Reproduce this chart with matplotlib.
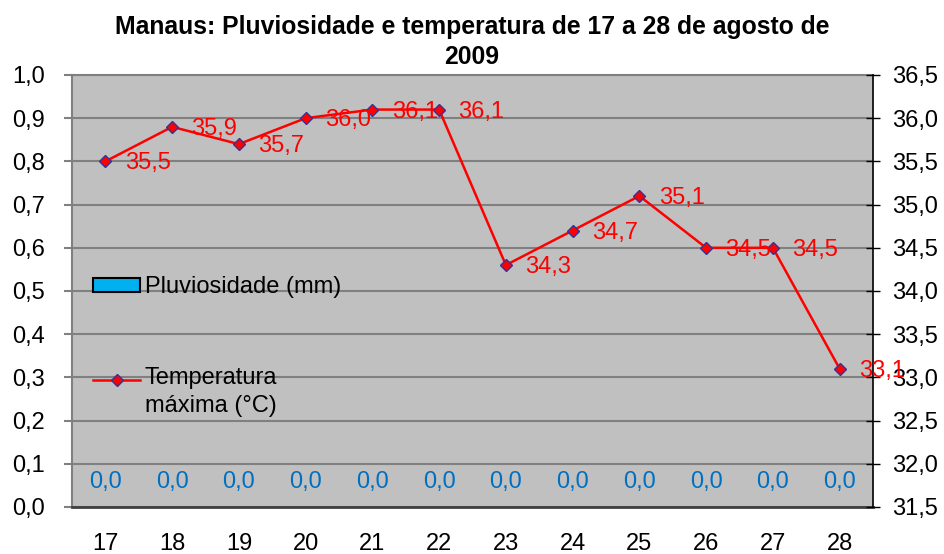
import matplotlib
matplotlib.use("Agg")
import matplotlib.pyplot as plt
from matplotlib.ticker import FuncFormatter, MultipleLocator
from matplotlib.lines import Line2D
from matplotlib.patches import Patch
from matplotlib.legend_handler import HandlerLine2D

plt.rcParams['font.family'] = ['Liberation Sans', 'DejaVu Sans']

days = ["17", "18", "19", "20", "21", "22", "23", "24", "25", "26", "27", "28"]
rain_mm = [0.0, 0.0, 0.0, 0.0, 0.0, 0.0, 0.0, 0.0, 0.0, 0.0, 0.0, 0.0]
temp_max = [35.5, 35.9, 35.7, 36.0, 36.1, 36.1, 34.3, 34.7, 35.1, 34.5, 34.5, 33.1]

title = "Manaus: Pluviosidade e temperatura de 17 a 28 de agosto de\n2009"
rain_label = "Pluviosidade (mm)"
temp_label = "Temperatura\nmáxima (°C)"

FS = 17
W, H = 944, 554
fig = plt.figure(figsize=(W / 100, H / 100), dpi=100)
ax = fig.add_axes([72 / W, 1 - 507 / H, 801 / W, 432 / H])
ax.set_facecolor("#C0C0C0")

comma = FuncFormatter(lambda v, p: f"{v:.1f}".replace(".", ","))

x = list(range(len(days)))
bars = ax.bar(x, rain_mm, width=0.5, color="#00B0F0", edgecolor="black", linewidth=0, zorder=3)
for xi, v in zip(x, rain_mm):
    ax.annotate(f"{v:.1f}".replace(".", ","), (xi, v), xytext=(0, 18), textcoords="offset points",
                ha="center", va="center", color="#0070C0", fontsize=FS, zorder=5)

ax.set_xlim(-0.5, len(days) - 0.5)
ax.set_ylim(0, 1.0)
ax.yaxis.set_major_locator(MultipleLocator(0.1))
ax.yaxis.set_major_formatter(comma)
ax.set_xticks(x)
ax.set_xticklabels(days)
ax.tick_params(axis="x", length=0, pad=18.5, labelsize=FS)
ax.tick_params(axis="y", direction="out", length=5.5, width=1.5, color="#808080", pad=14, labelsize=FS)
ax.grid(axis="y", color="#808080", linewidth=1.5, zorder=1)
ax.set_axisbelow(True)
for s in ["left", "top"]:
    ax.spines[s].set_color("#808080")
    ax.spines[s].set_linewidth(1.5)
ax.spines["bottom"].set_color("#404040")
ax.spines["bottom"].set_linewidth(2)
ax.spines["right"].set_visible(False)

ax2 = ax.twinx()
ax2.set_ylim(31.5, 36.5)
ax2.yaxis.set_major_locator(MultipleLocator(0.5))
ax2.yaxis.set_major_formatter(comma)
ax2.tick_params(axis="y", direction="inout", length=10, width=1, color="black", pad=9, labelsize=FS)
ax2.spines["right"].set_color("black")
ax2.spines["right"].set_linewidth(1.2)
for s in ["left", "top", "bottom"]:
    ax2.spines[s].set_visible(False)

ax2.plot(x, temp_max, color="#FF0000", linewidth=1.8, marker="D", markersize=6.5,
         markerfacecolor="#FF0000", markeredgecolor="#333399", markeredgewidth=1, zorder=4)
for xi, v in zip(x, temp_max):
    ax2.annotate(f"{v:.1f}".replace(".", ","), (xi, v), xytext=(14, -1.5), textcoords="offset points",
                 ha="left", va="center", color="#FF0000", fontsize=FS, zorder=6)

fig.text(0.5, 1 - 42 / H, title, ha="center", va="center", fontsize=17.8, fontweight="bold",
         linespacing=1.3)


class UpHandler(HandlerLine2D):
    def create_artists(self, legend, orig_handle, xdescent, ydescent, width, height, fontsize, trans):
        return super().create_artists(legend, orig_handle, xdescent, ydescent - 1.0 * fontsize,
                                      width, height, fontsize, trans)


rain_handle = Patch(facecolor="#00B0F0", edgecolor="black", linewidth=1.5)
temp_handle = Line2D([], [], color="#FF0000", linewidth=1.8, marker="D", markersize=6.5,
                     markerfacecolor="#FF0000", markeredgecolor="#333399")

leg1 = ax2.legend([rain_handle], [rain_label], loc="center left",
                  bbox_to_anchor=(93 / W, 1 - 287 / H), bbox_transform=fig.transFigure,
                  frameon=False, fontsize=FS, handlelength=2.0, handleheight=0.55,
                  handletextpad=0.2, borderpad=0, borderaxespad=0)
ax2.add_artist(leg1)
leg2 = ax2.legend([temp_handle], [temp_label], loc="center left",
                  bbox_to_anchor=(93 / W, 1 - 392 / H), bbox_transform=fig.transFigure,
                  frameon=False, fontsize=FS, handlelength=2.0, handletextpad=0.2,
                  borderpad=0, borderaxespad=0, handler_map={Line2D: UpHandler()})
for t in leg2.get_texts():
    t.set_linespacing(1.35)

fig.savefig("out.png", dpi=100)
